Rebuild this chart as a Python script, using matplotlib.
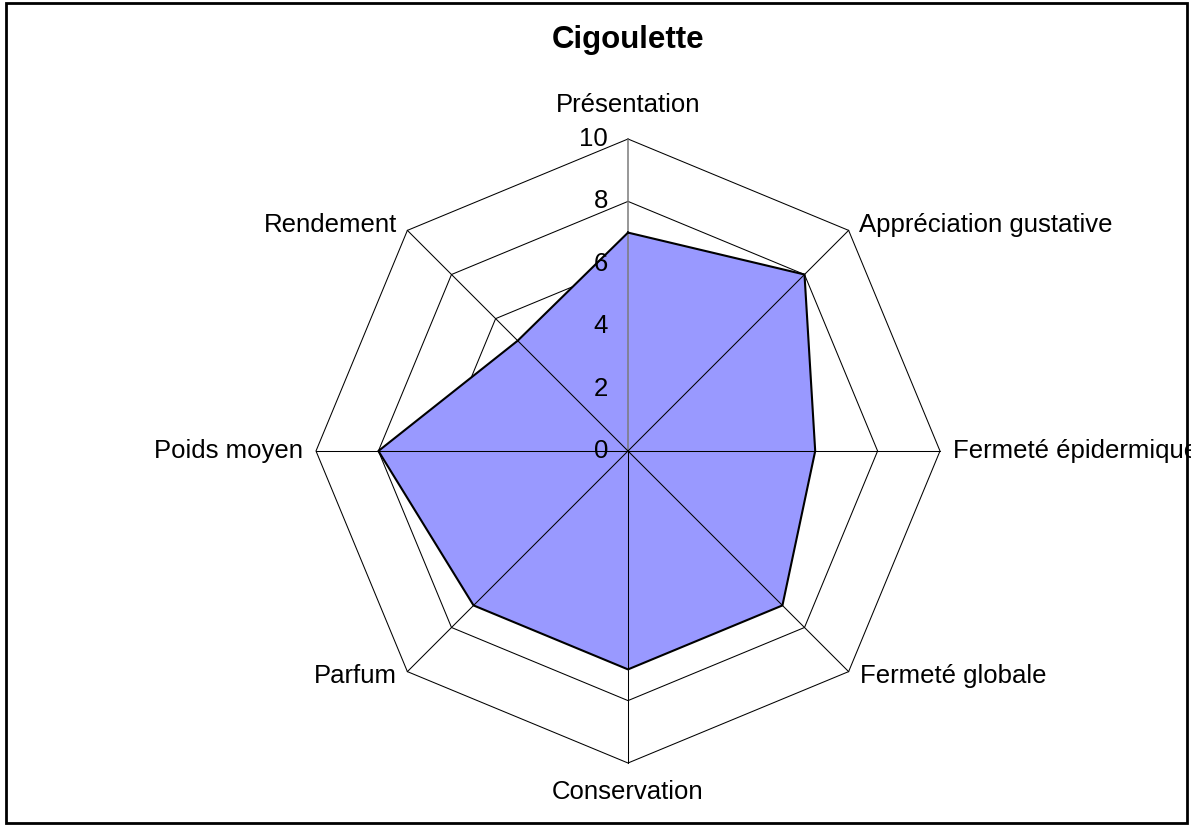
"""Radar chart of the Cigoulette tasting scores."""
import numpy as np
import matplotlib
matplotlib.use("Agg")
import matplotlib.pyplot as plt
from matplotlib.patches import Rectangle

plt.rcParams["font.family"] = ["Liberation Sans", "DejaVu Sans"]

title = "Cigoulette"
criteria = [
    "Présentation",
    "Appréciation gustative",
    "Fermeté épidermique",
    "Fermeté globale",
    "Conservation",
    "Parfum",
    "Poids moyen",
    "Rendement",
]
scores = [7, 8, 6, 7, 7, 7, 8, 5]
ticks = [0, 2, 4, 6, 8, 10]

W, H = 1191, 826
CX, CY = 628, 451          # centre in pixels from top-left
SCALE = 31.2               # pixels per score unit

fig = plt.figure(figsize=(W / 100, H / 100), dpi=100)
ax = fig.add_axes([0, 0, 1, 1])
ax.set_xlim(-CX / SCALE, (W - CX) / SCALE)
ax.set_ylim(-(H - CY) / SCALE, CY / SCALE)
ax.set_aspect("equal")
ax.axis("off")

n = len(criteria)
angles = np.pi / 2 - np.arange(n) * 2 * np.pi / n
ca, sa = np.cos(angles), np.sin(angles)

# octagonal rings
for r in ticks[1:]:
    ax.plot(np.append(r * ca, r * ca[0]), np.append(r * sa, r * sa[0]),
            color="black", lw=0.75, zorder=1)

# series polygon
vals = np.array(scores, dtype=float)
ax.fill(vals * ca, vals * sa, facecolor="#9999FF", edgecolor="none", zorder=2)

# spokes
top = ticks[-1]
for i in range(n):
    color = "#7a7a7a" if i == 0 else "black"
    lw = 1.1 if i == 0 else 0.75
    ax.plot([0, top * ca[i]], [0, top * sa[i]], color=color, lw=lw, zorder=3)

ax.plot(np.append(vals * ca, vals[0] * ca[0]), np.append(vals * sa, vals[0] * sa[0]),
        color="black", lw=1.5, zorder=4)

# value axis labels
for t in ticks:
    ax.annotate(str(t), xy=(0, t), xytext=(-20, 0), textcoords="offset pixels",
                ha="right", va="center", fontsize=18.5, zorder=5)

# category labels
offsets = [(0, 34, "center"), (10, 5, "left"), (13, 0, "left"), (11, -4, "left"),
           (0, -29, "center"), (-11, -4, "right"), (-13, 0, "right"), (-10, 5, "right")]
for i, label in enumerate(criteria):
    dx, dy, ha = offsets[i]
    ax.annotate(label, xy=(top * ca[i], top * sa[i]), xytext=(dx, dy),
                textcoords="offset pixels", ha=ha, va="center", fontsize=18.5, zorder=5)

fig.text(CX / W, 1 - 40 / H, title, ha="center", va="center",
         fontsize=22.5, fontweight="bold")

# chart border
fig.patches.append(Rectangle((5.5 / W, 3 / H), (1187 - 5.5) / W, (823 - 3) / H,
                             transform=fig.transFigure, fill=False,
                             edgecolor="black", lw=2, zorder=10))

fig.savefig("out.png", dpi=100, facecolor="white")
